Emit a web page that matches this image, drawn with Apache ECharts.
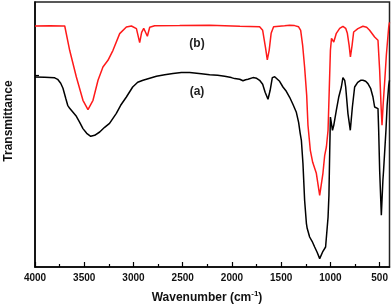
<!DOCTYPE html>
<html>
<head>
<meta charset="utf-8">
<script src="https://cdn.jsdelivr.net/npm/echarts@6/dist/echarts.min.js"></script>
<style>html,body{margin:0;padding:0;background:#fff}#c{width:392px;height:305px}</style>
</head>
<body>
<div id="c"></div>
<script>
// Spectrum (a), black
var waveA = [4000,3901,3800,3770,3739,3716,3688,3668,3648,3614,3580,3546,3513,3475,3434,3394,3343,3293,3243,3174,3130,3072,3008,2957,2903,2835,2767,2683,2599,2514,2429,2311,2226,2145,2074,2006,1972,1952,1921,1888,1861,1837,1787,1749,1719,1688,1663,1634,1612,1590,1566,1546,1516,1482,1448,1414,1381,1346,1323,1307,1295,1279,1262,1244,1236,1211,1186,1160,1135,1109,1099,1076,1049,1024,1015,1007,1000,989,979,966,940,916,889,873,855,845,822,798,777,754,723,693,670,642,619,592,568,551,517,510,500,483,467,460,436,424,408,400];
var transA = [190,189.7,189.2,187.7,183.7,178.7,168.7,161.7,158.7,154.7,150.7,144.7,138.4,133.7,130.7,131.7,135,139.7,143.7,153.7,161.7,170,180,184.7,186.7,188.7,190.7,192.2,193.4,194.4,194.4,193.2,192.2,191.7,190.7,189.4,188.4,189.2,187.7,186.2,187.2,187.7,189.4,188.7,186.7,182.7,174.7,167.7,176.7,189.4,190.2,188.7,185.7,180,175.7,169.7,162.7,154.7,144.7,133.7,126.7,103.7,66.7,43.7,38.7,30,25.7,20,14.7,8.4,7.7,15.7,20,49.7,71.7,116.7,150,148.7,136.7,141.7,156.7,169.7,180,189.4,186.7,180,153.4,136.7,160,180,184.7,186.7,186.7,185.7,183.4,178.7,170,160,158.4,136.7,96.7,51.7,86.7,96.7,136.7,161.7,181.7,186.7];
// Spectrum (b), red
var waveB = [4000,3851,3719,3698,3648,3580,3513,3462,3411,3360,3310,3259,3208,3140,3072,3021,2970,2937,2917,2896,2879,2859,2835,2785,2531,2227,1919,1719,1688,1658,1641,1622,1602,1577,1465,1414,1364,1323,1302,1282,1262,1241,1228,1204,1180,1143,1109,1076,1058,1041,1024,1012,1000,989,976,966,940,906,873,845,828,810,797,780,764,721,670,632,602,551,517,500,486,476,465,448,432,408,400];
var transB = [241,241.2,241,241,216.7,190,166.7,157.4,166.7,186.7,200,206.7,216.7,233.4,240,241,238.4,224.4,234.7,238.7,236.7,230.7,239.7,241.2,241.4,241.7,240.7,240.2,236.7,218.7,207.2,216.7,233.7,240.2,241.2,241.7,241.4,240.2,236.7,221.7,199.7,171.7,141.7,116.7,104.7,93.7,71.7,93.7,111.7,120,136.7,176.7,216.7,228.7,226.7,225,233.7,238.7,240.7,238.7,233.7,221.7,210,221.7,235,238.4,240.7,239.7,236.7,230,226.7,196.7,161.7,141.7,161.7,186.7,211.7,240,244.7];
var majorTicks = [4000,3500,3000,2500,2000,1500,1000,500];
var minorTicks = [3750,3250,2750,2250,1750,1250,750];
var yTicks = [192];
var seriesLabels = ['(a)','(b)'];
var xTitle = 'Wavenumber (cm';
var yTitle = 'Transmittance';

function pairs(w,t){var r=[];for(var i=0;i<w.length;i++){r.push([w[i],t[i]]);}return r;}
var FF = '"Liberation Sans", Arial, sans-serif';
var chart = echarts.init(document.getElementById('c'), null, {renderer:'canvas'});
chart.setOption({
  animation:false,
  backgroundColor:'#fff',
  grid:{left:35,right:2.5,top:2,bottom:38,show:true,borderColor:'#222',borderWidth:1.5,backgroundColor:'transparent'},
  xAxis:[{
    type:'value',min:400,max:4000,inverse:true,position:'bottom',
    axisLine:{show:true,onZero:false,lineStyle:{color:'#000',width:1.5}},
    axisTick:{show:true,inside:true,length:5,customValues:majorTicks,lineStyle:{color:'#000',width:1.2}},
    axisLabel:{show:true,customValues:majorTicks,margin:6,color:'#111',fontSize:10,fontWeight:'bold',fontFamily:FF,formatter:function(v){return String(v);}},
    splitLine:{show:false}
  },{
    type:'value',min:400,max:4000,inverse:true,position:'bottom',
    axisLine:{show:false},
    axisTick:{show:true,inside:true,length:3,customValues:minorTicks,lineStyle:{color:'#000',width:1.2}},
    axisLabel:{show:false},splitLine:{show:false}
  }],
  yAxis:{
    type:'value',min:0,max:265,
    axisLine:{show:true,onZero:false,lineStyle:{color:'#000',width:1.5}},
    axisTick:{show:true,inside:true,length:4,customValues:yTicks,lineStyle:{color:'#000',width:1.2}},
    axisLabel:{show:false},splitLine:{show:false}
  },
  series:[
    {name:seriesLabels[0],type:'line',xAxisIndex:0,showSymbol:false,data:pairs(waveA,transA),lineStyle:{color:'#000',width:1.5},itemStyle:{color:'#000'}},
    {name:seriesLabels[1],type:'line',xAxisIndex:0,showSymbol:false,data:pairs(waveB,transB),lineStyle:{color:'#ff1a1a',width:1.5},itemStyle:{color:'#ff1a1a'}}
  ],
  graphic:[
    {type:'text',x:197,y:92,style:{text:seriesLabels[0],fill:'#222',font:'bold 12px '+FF,align:'center',verticalAlign:'middle'}},
    {type:'text',x:197,y:44,style:{text:seriesLabels[1],fill:'#222',font:'bold 12px '+FF,align:'center',verticalAlign:'middle'}},
    {type:'text',x:9,y:121,rotation:Math.PI/2,style:{text:yTitle,fill:'#111',font:'bold 12px '+FF,align:'center',verticalAlign:'middle'}},
    {type:'text',x:207,y:297,style:{text:'{t|'+xTitle+'}{s|-1}{t|)}',align:'center',verticalAlign:'middle',rich:{t:{fontSize:12,fontWeight:'bold',fontFamily:FF,fill:'#111',color:'#111',verticalAlign:'bottom',lineHeight:14},s:{fontSize:8,fontWeight:'bold',fontFamily:FF,fill:'#111',color:'#111',verticalAlign:'top',lineHeight:14}}}}
  ]
});
</script>
</body>
</html>
